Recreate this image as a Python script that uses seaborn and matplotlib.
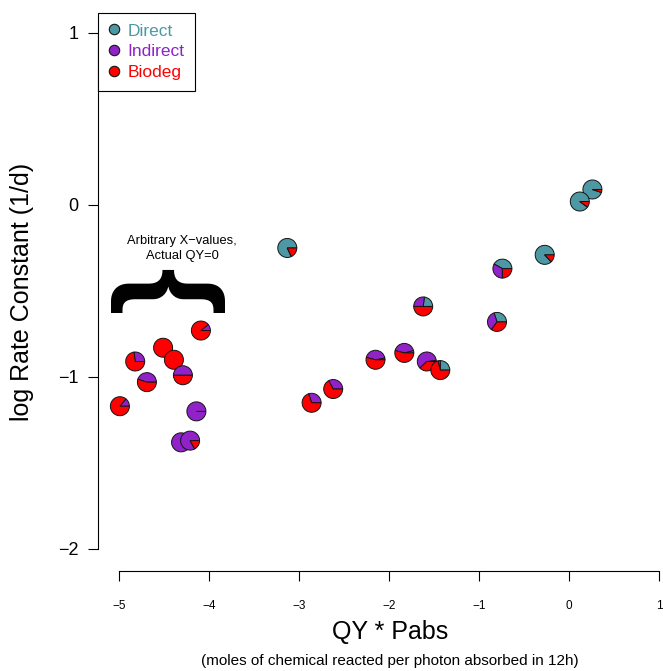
import numpy as np
import pandas as pd
import seaborn as sns
import matplotlib.pyplot as plt
import matplotlib.transforms as mtransforms
from matplotlib.patches import Wedge
from matplotlib.lines import Line2D

# valores
qy_pabs = [-4.99, -4.82, -4.69, -4.51, -4.39, -4.29, -4.09, -4.14, -4.31, -4.21,
           -3.13, -1.62, -2.15, -1.83, -1.58, -1.43, -2.62, -2.86,
           0.26, 0.12, -0.27, -0.74, -0.80]
log_k = [-1.17, -0.91, -1.03, -0.83, -0.90, -0.99, -0.73, -1.20, -1.38, -1.37,
         -0.25, -0.59, -0.90, -0.86, -0.91, -0.96, -1.07, -1.15,
         0.09, 0.02, -0.29, -0.37, -0.68]
# fracciones de cada proceso (pie de cada punto)
direct = [0, 0, 0, 0, 0, 0, 0, 0, 0, 0,
          0.82, 0.23, 0.03, 0.04, 0.02, 0.25, 0, 0,
          0.95, 0.90, 0.87, 0.42, 0.30]
indirect = [0.14, 0.27, 0.45, 0, 0, 0.50, 0.11, 1.0, 1.0, 0.83,
            0, 0.27, 0.43, 0.42, 0.60, 0.04, 0.33, 0.30,
            0, 0, 0, 0.33, 0.35]

procesos = ['Direct', 'Indirect', 'Biodeg']
colores = ['#4C98A4', '#9121C9', '#FF0000']
x_ticks = [-5, -4, -3, -2, -1, 0, 1]
y_ticks = [-2, -1, 0, 1]

df = pd.DataFrame({'qy': qy_pabs, 'logk': log_k, 'direct': direct, 'indirect': indirect})
df['biodeg'] = 1 - df['direct'] - df['indirect']

sns.set_style('ticks')
plt.rcParams['font.family'] = ['Liberation Sans', 'DejaVu Sans']
plt.rcParams.update({'text.color': 'black', 'axes.labelcolor': 'black',
                     'xtick.color': 'black', 'ytick.color': 'black'})

fig = plt.figure(figsize=(6.63, 6.71), dpi=100)
ax = fig.add_axes([98 / 663, 100 / 671, 565 / 663, 558 / 671])

sns.scatterplot(data=df, x='qy', y='logk', s=250, color='white', linewidth=0,
                legend=False, ax=ax, zorder=1)

# cada punto es un pequeño pie
r = 0.095
for i, row in df.iterrows():
    trans = fig.dpi_scale_trans + mtransforms.ScaledTranslation(row['qy'], row['logk'], ax.transData)
    ang = 0
    for frac, col in zip([row['direct'], row['indirect'], row['biodeg']], colores):
        w = Wedge((0, 0), r, ang, ang + frac * 360, facecolor=col, edgecolor='#151515',
                  linewidth=0.7, transform=trans, zorder=3 + i)
        ax.add_patch(w)
        ang += frac * 360

ax.set_xlim(-5.2333, 1.0444)
ax.set_ylim(-2.128, 1.116)
ax.set_xticks(x_ticks)
ax.set_yticks(y_ticks)
sns.despine(ax=ax)
ax.spines['left'].set_bounds(-2, 1)
ax.spines['bottom'].set_bounds(-5, 1)
for s in ['left', 'bottom']:
    ax.spines[s].set_color('black')
    ax.spines[s].set_linewidth(0.8)
ax.tick_params(axis='y', length=7, width=0.8, color='black', labelcolor='black', labelsize=13, pad=7)
ax.tick_params(axis='x', length=7, width=0.8, color='black', labelcolor='black', labelsize=8.5, pad=14)
ax.set_xlabel('')
ax.set_ylabel('')

# llave y nota
ax.text(-4.49, -0.506, '{', rotation=270, fontsize=88, fontweight='bold', color='black',
        ha='center', va='center')
ax.text(-4.30, -0.253, 'Arbitrary X\u2212values,\nActual QY=0', ha='center', va='center',
        fontsize=9.3, multialignment='center', linespacing=1.3, color='black')

handles = [Line2D([], [], marker='o', ls='', markersize=7.5, markerfacecolor=c,
                  markeredgecolor='#151515', markeredgewidth=0.8) for c in colores]
leg = ax.legend(handles, procesos, loc='upper left', bbox_to_anchor=(0, 1), borderaxespad=0,
                frameon=True, fancybox=False, framealpha=1, edgecolor='black', fontsize=12.5,
                labelcolor=colores, handlelength=0.6, handletextpad=0.5, borderpad=0.6,
                labelspacing=0.33)
leg.get_frame().set_linewidth(0.8)

fig.text(22 / 663, 1 - 292 / 671, 'log Rate Constant (1/d)', rotation=90, ha='center',
         va='center', fontsize=18, color='black')
fig.text(390 / 663, 1 - 632 / 671, 'QY * Pabs', ha='center', va='center', fontsize=18,
         color='black')
fig.text(390 / 663, 1 - 661 / 671, '(moles of chemical reacted per photon absorbed in 12h)',
         ha='center', va='center', fontsize=11, color='black')

plt.savefig('out.png', dpi=100)
